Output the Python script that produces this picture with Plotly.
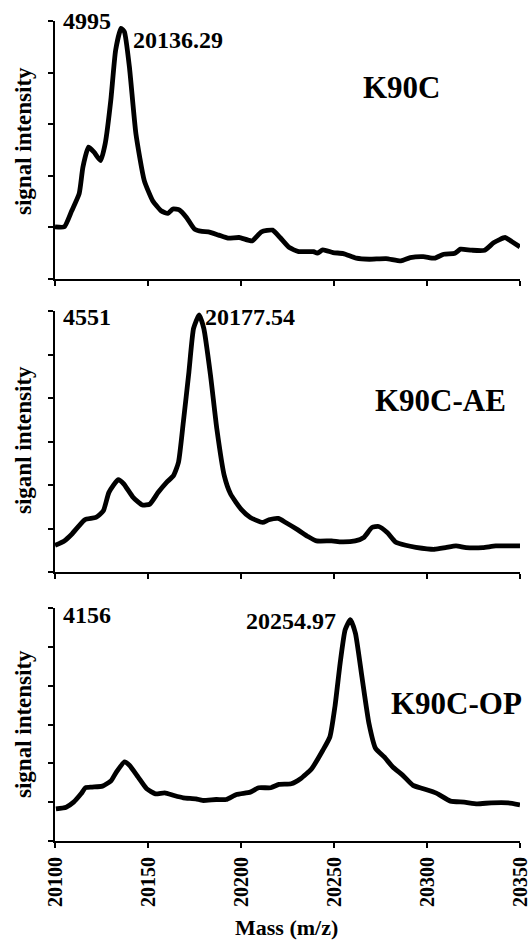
import plotly.graph_objects as go

# ---- data ----
mass_a = [20100, 20105, 20109, 20113, 20115, 20118, 20121, 20124.5, 20127, 20130, 20132.6, 20135.5, 20137.3, 20140, 20143.5, 20148, 20152.5, 20157, 20160.7, 20163.4, 20167, 20170.7, 20175, 20179, 20182.5, 20188, 20193, 20199, 20206, 20211, 20217, 20221, 20226, 20231, 20239, 20241, 20244, 20249.5, 20255, 20262, 20269, 20278, 20286, 20291, 20298, 20304, 20309, 20315, 20318, 20324, 20331, 20336, 20342, 20345.5, 20350]
int_a = [1012, 1012, 1323, 1654, 2166, 2555, 2457, 2296, 2626, 3463, 4436, 4858, 4792, 4111, 2815, 1907, 1518, 1323, 1271, 1356, 1336, 1193, 967, 921, 914, 850, 792, 804, 739, 914, 947, 804, 609, 531, 531, 500, 564, 512, 492, 403, 383, 395, 350, 414, 434, 403, 480, 500, 578, 558, 558, 706, 804, 726, 623]

mass_b = [20100, 20105, 20109, 20116, 20122, 20126, 20129, 20134, 20137, 20142, 20147, 20151, 20155.5, 20160, 20163.7, 20166.4, 20169, 20172, 20174.5, 20177.5, 20180, 20183.6, 20187, 20191, 20194.4, 20200, 20205, 20211.6, 20215, 20220, 20224, 20230.6, 20236, 20240.6, 20248.7, 20254, 20261.4, 20266, 20270.4, 20274, 20278.6, 20283, 20288.5, 20294, 20304, 20310, 20315.6, 20321, 20330, 20337, 20350]
int_b = [492, 572, 695, 960, 1003, 1126, 1465, 1698, 1618, 1372, 1231, 1249, 1465, 1649, 1772, 2018, 2757, 3680, 4480, 4726, 4480, 3619, 2634, 1772, 1434, 1157, 1003, 911, 960, 985, 911, 775, 652, 572, 572, 554, 572, 634, 818, 837, 726, 554, 492, 455, 418, 449, 480, 449, 449, 480, 480]

mass_c = [20100.5, 20106, 20110, 20114, 20116.4, 20120, 20125.5, 20130, 20133, 20137.4, 20140, 20144.7, 20149.3, 20154, 20159, 20164, 20169, 20175.7, 20179.4, 20186.7, 20192, 20197.6, 20205, 20209.5, 20216, 20220.4, 20227, 20232, 20238, 20244, 20247.8, 20250.5, 20253.3, 20256, 20258.8, 20261.5, 20265, 20268.8, 20272.4, 20277, 20281.6, 20287, 20292.5, 20298, 20305, 20312.6, 20320, 20327, 20334.5, 20343.6, 20350]
int_c = [662, 697, 800, 972, 1097, 1110, 1131, 1235, 1421, 1628, 1559, 1317, 1076, 972, 993, 938, 890, 869, 835, 855, 855, 959, 1007, 1097, 1097, 1166, 1179, 1283, 1490, 1869, 2145, 2766, 3662, 4352, 4559, 4283, 3386, 2421, 1904, 1731, 1524, 1352, 1145, 1076, 986, 821, 800, 766, 786, 786, 745]

x_ticks = [20100, 20150, 20200, 20250, 20300, 20350]
panel_names = ["K90C", "K90C-AE", "K90C-OP"]
peak_labels = ["20136.29", "20177.54", "20254.97"]
max_labels = ["4995", "4551", "4156"]
y_titles = ["signal intensity", "siganl intensity", "signal intensity"]
x_title = "Mass (m/z)"

FONT = "Liberation Serif"
W, H = 532, 941
ML, MR, MT, MB = 55, 12, 21, 100
PW = W - ML - MR
PH = H - MT - MB


def px2x(px):
    return (px - ML) / PW


def py2y(py):
    return (H - MB - py) / PH


fig = go.Figure()
series = [(mass_a, int_a), (mass_b, int_b), (mass_c, int_c)]
for i, (mx, my) in enumerate(series):
    fig.add_trace(go.Scatter(
        x=mx, y=my, mode="lines",
        line=dict(color="black", width=4.8, shape="spline", smoothing=0.5),
        xaxis="x" if i == 0 else f"x{i+1}",
        yaxis="y" if i == 0 else f"y{i+1}",
        showlegend=False, hoverinfo="skip"))

# panel pixel extents (top, bottom)
panels = [(21, 279), (311, 572), (608, 841)]
yranges = [(0, 5000, 1000), (0, 4800, 800), (0, 4800, 800)]

axis_common = dict(showgrid=False, zeroline=False, showline=True, linecolor="black",
                   linewidth=1.5, ticks="outside", ticklen=5, tickwidth=1.5,
                   tickcolor="black")
layout_axes = {}
for i, ((top, bot), (y0, y1, dy)) in enumerate(zip(panels, yranges)):
    xn = "xaxis" if i == 0 else f"xaxis{i+1}"
    yn = "yaxis" if i == 0 else f"yaxis{i+1}"
    yref = "y" if i == 0 else f"y{i+1}"
    xref = "x" if i == 0 else f"x{i+1}"
    layout_axes[xn] = dict(axis_common, domain=[0, 1], anchor=yref,
                           range=[20100, 20350], tickvals=x_ticks,
                           showticklabels=False)
    layout_axes[yn] = dict(axis_common, domain=[py2y(bot), py2y(top)], anchor=xref,
                           range=[y0, y1], dtick=dy, tick0=0, showticklabels=False)

fig.update_layout(width=W, height=H, margin=dict(l=ML, r=MR, t=MT, b=MB),
                  paper_bgcolor="white", plot_bgcolor="white", **layout_axes)

ann = []


def add_text(text, px, py, size, xanchor="left", angle=0):
    ann.append(dict(text=text, x=px2x(px), y=py2y(py), xref="paper", yref="paper",
                    xanchor=xanchor, yanchor="middle", showarrow=False, textangle=angle,
                    font=dict(family=FONT, size=size, color="black", weight="bold")))


# rotated x tick labels on the bottom axis, placed at the data positions
for v in x_ticks:
    ann.append(dict(text=str(v), x=v, xref="x3", y=py2y(855), yref="paper",
                    xanchor="center", yanchor="top", showarrow=False, textangle=-90,
                    font=dict(family=FONT, size=20, color="black", weight="bold")))

max_pos = [(61, 21), (61, 317), (61, 615)]
peak_pos = [(131, 40), (203, 317), (244, 621)]
name_pos = [(402, 88), (440, 400), (456, 703)]
title_pos = [141, 440, 724]
for i in range(3):
    add_text(max_labels[i], *max_pos[i], 24)
    add_text(peak_labels[i], *peak_pos[i], 24)
    add_text(panel_names[i], *name_pos[i], 31, xanchor="center")
    add_text(y_titles[i], 23, title_pos[i], 23, xanchor="center", angle=-90)
add_text(x_title, 286, 927, 22, xanchor="center")

fig.update_layout(annotations=ann)
fig.write_html("out.html")
